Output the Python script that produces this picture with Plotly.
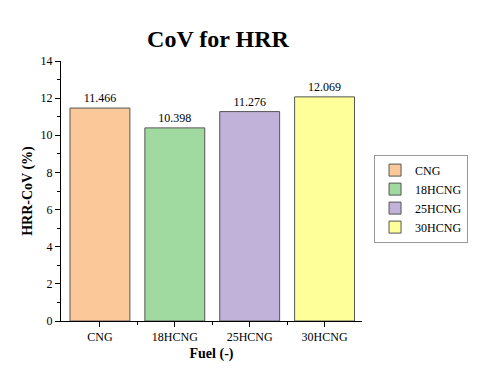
import plotly.graph_objects as go

fuels = ["CNG", "18HCNG", "25HCNG", "30HCNG"]
cov_values = [11.466, 10.398, 11.276, 12.069]
bar_colors = ["#FBC89A", "#A1DAA0", "#C0B2D8", "#FFFF99"]

SERIF = "Liberation Serif"

fig = go.Figure()
for i, (name, val, col) in enumerate(zip(fuels, cov_values, bar_colors)):
    fig.add_trace(go.Bar(
        x=[i], y=[val], name=name, width=0.8,
        marker=dict(color=col, line=dict(color="#555555", width=1)),
        text=[f"{val:.3f}"], textposition="outside",
        textfont=dict(family=SERIF, size=12, color="black"),
        cliponaxis=False,
    ))

# page is drawn with the browser's default 8px body margin, so margins compensate
fig.update_layout(
    width=480, height=368,
    plot_bgcolor="white", paper_bgcolor="white",
    margin=dict(l=53, r=126, t=53, b=55),
    font=dict(family=SERIF, size=12, color="black"),
    title=dict(text="<b>CoV for HRR</b>", x=0.4375, xanchor="center", y=0.918, yanchor="middle",
               font=dict(family=SERIF, size=24, color="black")),
    showlegend=True,
    legend=dict(x=1.04, y=0.64, xanchor="left", yanchor="top",
                bordercolor="#999999", borderwidth=1,
                font=dict(family=SERIF, size=12), tracegroupgap=0,
                itemwidth=30),
    bargap=0.2,
)

fig.update_xaxes(
    range=[-0.52, 3.5], tickmode="array", tickvals=[0, 1, 2, 3], ticktext=fuels,
    showline=True, linecolor="black", linewidth=1,
    ticks="outside", ticklen=5, tickcolor="black",
    minor=dict(tickmode="array", tickvals=[0.5, 1.5, 2.5], ticks="outside", ticklen=3, tickcolor="black"),
    showgrid=False, zeroline=False, automargin=False,
    tickfont=dict(family=SERIF, size=12),
    title=dict(text="<b>Fuel (-)</b>", font=dict(family=SERIF, size=14), standoff=4),
)
fig.update_yaxes(
    range=[0, 14], dtick=2, tick0=0,
    showline=True, linecolor="black", linewidth=1,
    ticks="outside", ticklen=5, tickcolor="black",
    minor=dict(dtick=1, ticks="outside", ticklen=3, tickcolor="black"),
    showgrid=False, zeroline=False, automargin=False,
    tickfont=dict(family=SERIF, size=12),
    title=dict(text="<b>HRR-CoV (%)</b>", font=dict(family=SERIF, size=14), standoff=4),
)

fig.write_html("out.html")
